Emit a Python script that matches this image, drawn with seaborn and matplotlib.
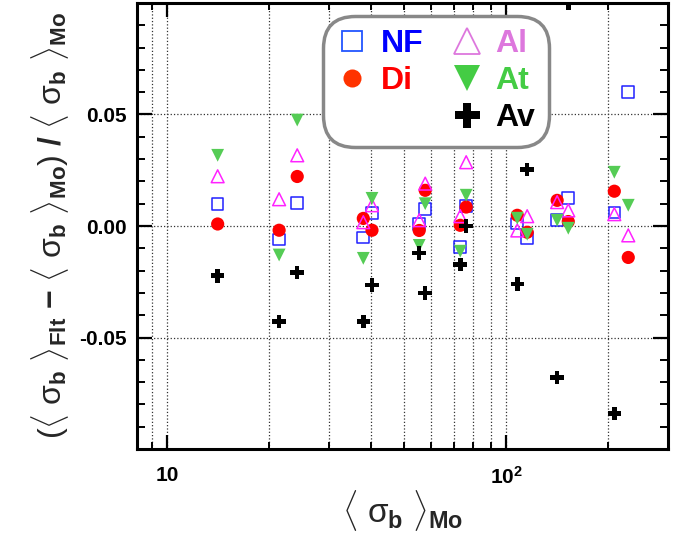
import numpy as np
import pandas as pd
import matplotlib
matplotlib.use('Agg')
import matplotlib.pyplot as plt
import matplotlib.ticker as mticker
from matplotlib.lines import Line2D
import seaborn as sns

# <sigma_b>_Mo values (x positions)
sigma_mo = [14.1, 21.4, 24.2, 37.9, 40.2, 55.4, 57.7, 73.2, 76.2,
            107.8, 115.3, 141.3, 152.4, 208.3, 229.0]

# relative deviation of each fit method
nf = [0.0098, -0.0060, 0.0102, -0.0051, 0.0057, 0.0008, 0.0075, -0.0095, 0.0089,
      0.0012, -0.0055, 0.0026, 0.0125, 0.0061, 0.0600]
di = [0.0009, -0.0019, 0.0222, 0.0034, -0.0019, -0.0020, 0.0160, 0.0003, 0.0085,
      0.0048, -0.0028, 0.0115, 0.0020, 0.0156, -0.0141]
al = [0.0223, 0.0120, 0.0317, 0.0017, 0.0093, 0.0026, 0.0190, 0.0044, 0.0286,
      -0.0020, 0.0044, 0.0107, 0.0070, 0.0053, -0.0042]
at = [0.0317, -0.0130, 0.0475, -0.0145, 0.0124, -0.0087, 0.0100, -0.0113, 0.0138,
      0.0035, -0.0037, 0.0026, -0.0010, 0.0241, 0.0093]
av = [-0.0223, -0.0428, -0.0208, -0.0428, -0.0265, -0.0122, -0.0300, -0.0172, 0.0000,
      -0.0260, 0.0254, -0.0680, 0.1000, -0.0840, np.nan]

methods = ['NF', 'Di', 'Al', 'At', 'Av']
series = {'NF': nf, 'Di': di, 'Al': al, 'At': at, 'Av': av}

# marker style per method: (marker, color, filled, size)
styles = {
    'NF': ('s', '#2020ff', False, 70),
    'Di': ('o', '#ff0000', True, 90),
    'Al': ('^', '#ff22ff', False, 85),
    'At': ('v', '#55cc55', True, 85),
    'Av': ('P', 'black', True, 95),
}
text_colors = {'NF': '#0000ff', 'Di': '#ff0000', 'Al': '#dd77dd', 'At': '#44cc44', 'Av': 'black'}
leg_colors = {'NF': '#2255ff', 'Di': '#ff3300', 'Al': '#dd77dd', 'At': '#44cc44', 'Av': 'black'}

sns.set_theme(style='ticks')
plt.rcParams['font.family'] = ['Liberation Sans', 'DejaVu Sans']
plt.rcParams['mathtext.fontset'] = 'custom'
plt.rcParams['mathtext.rm'] = 'Liberation Sans'
plt.rcParams['mathtext.it'] = 'Liberation Sans'
plt.rcParams['mathtext.bf'] = 'Liberation Sans:bold'

fig = plt.figure(figsize=(6.88, 5.41), dpi=100)
ax = fig.add_axes([0.199, 0.170, 0.772, 0.8245])

for m in methods:
    df = pd.DataFrame({'x': sigma_mo, 'y': series[m]}).dropna()
    marker, color, filled, size = styles[m]
    if filled:
        sns.scatterplot(data=df, x='x', y='y', ax=ax, marker=marker, s=size,
                        color=color, edgecolor='none', linewidth=0, zorder=3)
    else:
        sns.scatterplot(data=df, x='x', y='y', ax=ax, marker=marker, s=size,
                        facecolor='none', edgecolor=color, linewidth=1.1, zorder=3)

ax.set_xscale('log')
ax.set_xlim(8.15, 300)
ax.set_ylim(-0.1, 0.1)

ax.xaxis.set_major_locator(mticker.FixedLocator([10, 100]))
ax.xaxis.set_major_formatter(mticker.FixedFormatter(['10', r'$\mathbf{10^{2}}$']))
ax.xaxis.set_minor_locator(mticker.LogLocator(base=10, subs=np.arange(2, 10)))
ax.xaxis.set_minor_formatter(mticker.NullFormatter())
ax.yaxis.set_major_locator(mticker.FixedLocator([-0.05, 0.0, 0.05]))
ax.yaxis.set_major_formatter(mticker.FixedFormatter(['-0.05', '0.00', '0.05']))
ax.yaxis.set_minor_locator(mticker.MultipleLocator(0.01))

ax.tick_params(which='both', direction='in', top=True, right=True, colors='black')
ax.tick_params(axis='y', which='major', length=11, width=1.6, labelsize=15, pad=7)
ax.tick_params(axis='y', which='minor', length=6, width=1.4)
ax.tick_params(axis='x', which='major', length=10, width=1.6, labelsize=15, pad=12)
ax.tick_params(axis='x', which='minor', length=5, width=1.4)
for lab in ax.get_xticklabels() + ax.get_yticklabels():
    lab.set_fontweight('bold')

ax.grid(which='both', axis='x', linestyle=':', color='#333333', linewidth=0.9)
ax.grid(which='major', axis='y', linestyle=':', color='#333333', linewidth=0.9)
for sp in ax.spines.values():
    sp.set_linewidth(2.2)
    sp.set_color('black')

ax.set_xlabel(r'$\langle\ \sigma_{\mathbf{b}}\ \rangle_{\mathbf{Mo}}$', fontsize=24, labelpad=0)
ax.set_ylabel(r'$(\langle\ \sigma_{\mathbf{b}}\ \rangle_{\mathbf{Flt}}\ \mathbf{-}\ '
              r'\langle\ \sigma_{\mathbf{b}}\ \rangle_{\mathbf{Mo}})\ \mathbf{/}\ '
              r'\langle\ \sigma_{\mathbf{b}}\ \rangle_{\mathbf{Mo}}$', fontsize=23, labelpad=6)

# legend: two columns, blank slot keeps Av under the second column
leg_sizes = {'NF': 15, 'Di': 13, 'Al': 19, 'At': 19, 'Av': 18}
handles, labels = [], []
for m in ['NF', 'Di', None, 'Al', 'At', 'Av']:
    if m is None:
        handles.append(Line2D([], [], linestyle='none', marker=None))
        labels.append(' ')
        continue
    marker, color, filled, size = styles[m]
    handles.append(Line2D([], [], linestyle='none', marker=marker, markersize=leg_sizes[m],
                          markerfacecolor=leg_colors[m] if filled else 'none',
                          markeredgecolor=leg_colors[m], markeredgewidth=1.3 if not filled else 0))
    labels.append(m)

leg = ax.legend(handles, labels, ncol=2, loc='upper left', bbox_to_anchor=(0.362, 0.957),
                prop={'weight': 'bold', 'size': 23}, frameon=True, fancybox=True, shadow=False,
                handletextpad=0.4, columnspacing=0.85, labelspacing=0.22, borderpad=0.22,
                handlelength=1.0, borderaxespad=0)
for txt, m in zip(leg.get_texts(), ['NF', 'Di', None, 'Al', 'At', 'Av']):
    if m is not None:
        txt.set_color(text_colors[m])
frame = leg.get_frame()
frame.set_edgecolor('#888888')
frame.set_linewidth(2.5)
frame.set_facecolor('white')
frame.set_alpha(1)
frame.set_boxstyle('round,pad=0.2,rounding_size=1.0')

fig.savefig('out.png', dpi=100)
